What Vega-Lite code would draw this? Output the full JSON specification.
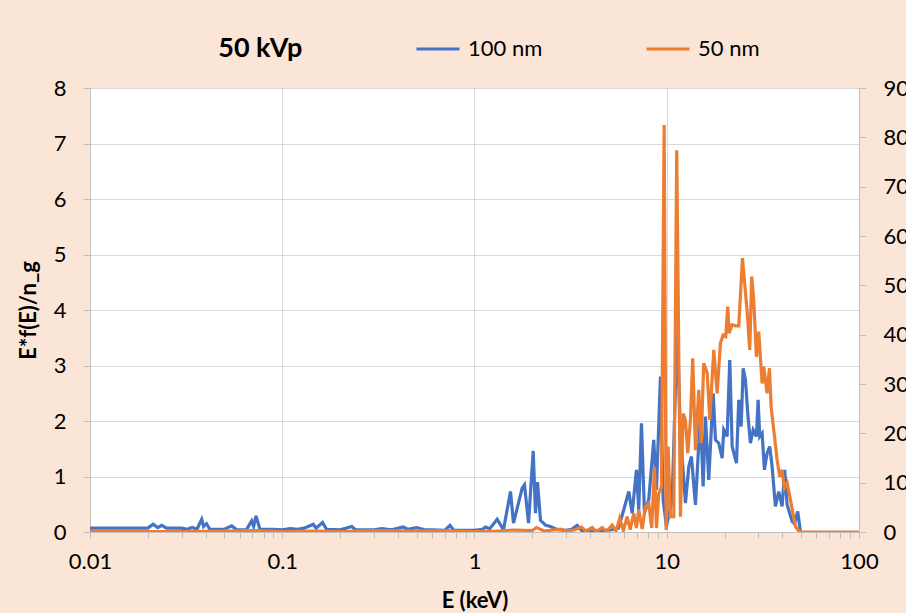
{
  "$schema": "https://vega.github.io/schema/vega-lite/v6.json",
  "width": 769,
  "height": 444,
  "autosize": "none",
  "padding": {"left": 90, "top": 88, "right": 47, "bottom": 81},
  "background": "#FBE5D6",
  "config": {
    "view": {"fill": "white", "stroke": null},
    "font": "Lato",
    "axis": {
      "domainColor": "#BFBFBF",
      "tickColor": "#BFBFBF",
      "gridColor": "#D9D9D9",
      "labelFont": "Lato",
      "labelFontSize": 22,
      "labelColor": "black",
      "titleFont": "Lato",
      "titleFontSize": 22,
      "titleFontWeight": "bold",
      "titleColor": "black"
    }
  },
  "title": {
    "text": "50 kVp",
    "anchor": "start",
    "dx": 201,
    "offset": -37,
    "fontSize": 27,
    "fontWeight": "bold",
    "font": "Lato",
    "color": "black"
  },
  "datasets": {
    "blue": [
      {"E": 0.01, "v": 0.07}, {"E": 0.015, "v": 0.07}, {"E": 0.02, "v": 0.07}, {"E": 0.0213, "v": 0.14},
      {"E": 0.0225, "v": 0.08}, {"E": 0.0236, "v": 0.12}, {"E": 0.025, "v": 0.07}, {"E": 0.03, "v": 0.07},
      {"E": 0.032, "v": 0.05}, {"E": 0.034, "v": 0.08}, {"E": 0.036, "v": 0.05}, {"E": 0.0381, "v": 0.23},
      {"E": 0.039, "v": 0.1}, {"E": 0.0404, "v": 0.15}, {"E": 0.042, "v": 0.05}, {"E": 0.05, "v": 0.05},
      {"E": 0.0546, "v": 0.11}, {"E": 0.058, "v": 0.04}, {"E": 0.065, "v": 0.04}, {"E": 0.0693, "v": 0.2},
      {"E": 0.071, "v": 0.1}, {"E": 0.073, "v": 0.29}, {"E": 0.0765, "v": 0.05}, {"E": 0.09, "v": 0.05},
      {"E": 0.1, "v": 0.04}, {"E": 0.11, "v": 0.06}, {"E": 0.12, "v": 0.05}, {"E": 0.13, "v": 0.07},
      {"E": 0.145, "v": 0.14}, {"E": 0.15, "v": 0.07}, {"E": 0.162, "v": 0.17}, {"E": 0.17, "v": 0.05},
      {"E": 0.2, "v": 0.04}, {"E": 0.23, "v": 0.1}, {"E": 0.24, "v": 0.04}, {"E": 0.3, "v": 0.04},
      {"E": 0.33, "v": 0.06}, {"E": 0.37, "v": 0.04}, {"E": 0.425, "v": 0.09}, {"E": 0.45, "v": 0.05},
      {"E": 0.5, "v": 0.08}, {"E": 0.55, "v": 0.04}, {"E": 0.6, "v": 0.04}, {"E": 0.7, "v": 0.03},
      {"E": 0.745, "v": 0.12}, {"E": 0.78, "v": 0.03}, {"E": 1.0, "v": 0.03}, {"E": 1.1, "v": 0.05},
      {"E": 1.141, "v": 0.09}, {"E": 1.2, "v": 0.06}, {"E": 1.312, "v": 0.23}, {"E": 1.415, "v": 0.04},
      {"E": 1.539, "v": 0.73}, {"E": 1.595, "v": 0.16}, {"E": 1.77, "v": 0.79}, {"E": 1.82, "v": 0.85},
      {"E": 1.91, "v": 0.16}, {"E": 2.02, "v": 1.46}, {"E": 2.076, "v": 0.34}, {"E": 2.127, "v": 0.9},
      {"E": 2.204, "v": 0.21}, {"E": 2.35, "v": 0.12}, {"E": 2.484, "v": 0.1}, {"E": 2.7, "v": 0.04},
      {"E": 3.0, "v": 0.03}, {"E": 3.2, "v": 0.05}, {"E": 3.42, "v": 0.12}, {"E": 3.6, "v": 0.03},
      {"E": 4.5, "v": 0.02}, {"E": 5.2, "v": 0.04}, {"E": 5.61, "v": 0.07}, {"E": 5.976, "v": 0.4},
      {"E": 6.345, "v": 0.73}, {"E": 6.607, "v": 0.34}, {"E": 6.957, "v": 1.12}, {"E": 7.151, "v": 0.4},
      {"E": 7.386, "v": 1.96}, {"E": 7.656, "v": 0.34}, {"E": 8.06, "v": 0.58}, {"E": 8.558, "v": 1.66},
      {"E": 8.84, "v": 0.76}, {"E": 9.273, "v": 2.8}, {"E": 9.579, "v": 0.58}, {"E": 9.963, "v": 0.1},
      {"E": 10.67, "v": 0.58}, {"E": 11.33, "v": 3.64}, {"E": 11.78, "v": 1.78}, {"E": 12.51, "v": 0.52},
      {"E": 13.02, "v": 1.18}, {"E": 13.44, "v": 1.36}, {"E": 14.1, "v": 0.49}, {"E": 14.97, "v": 2.14},
      {"E": 15.46, "v": 0.82}, {"E": 15.89, "v": 2.08}, {"E": 16.54, "v": 0.94}, {"E": 17.43, "v": 2.5},
      {"E": 17.92, "v": 1.66}, {"E": 18.64, "v": 1.6}, {"E": 19.42, "v": 1.33}, {"E": 19.79, "v": 1.84},
      {"E": 20.61, "v": 1.72}, {"E": 21.27, "v": 3.1}, {"E": 21.89, "v": 1.54}, {"E": 23.05, "v": 1.24},
      {"E": 23.69, "v": 2.38}, {"E": 24.38, "v": 1.9}, {"E": 24.97, "v": 2.95}, {"E": 25.67, "v": 2.74},
      {"E": 26.38, "v": 2.14}, {"E": 27.24, "v": 1.6}, {"E": 28.14, "v": 1.84}, {"E": 29.27, "v": 1.72},
      {"E": 29.87, "v": 2.38}, {"E": 30.45, "v": 1.72}, {"E": 31.34, "v": 1.78}, {"E": 32.21, "v": 1.12},
      {"E": 33.27, "v": 1.42}, {"E": 34.32, "v": 1.54}, {"E": 35.32, "v": 1.18}, {"E": 36.75, "v": 0.46},
      {"E": 38.23, "v": 0.73}, {"E": 39.82, "v": 0.46}, {"E": 41.08, "v": 1.12}, {"E": 42.28, "v": 0.49},
      {"E": 44.9, "v": 0.19}, {"E": 46.2, "v": 0.15}, {"E": 48.0, "v": 0.37}, {"E": 49.6, "v": 0.0}
    ],
    "orange": [
      {"E": 0.01, "r": 0.1}, {"E": 0.03, "r": 0.1}, {"E": 0.05, "r": 0.2}, {"E": 0.07, "r": 0.3},
      {"E": 0.1, "r": 0.1}, {"E": 0.15, "r": 0.2}, {"E": 0.2, "r": 0.1}, {"E": 0.3, "r": 0.3},
      {"E": 0.5, "r": 0.2}, {"E": 0.7, "r": 0.3}, {"E": 1.0, "r": 0.1}, {"E": 1.3, "r": 0.2},
      {"E": 1.6, "r": 0.4}, {"E": 2.0, "r": 0.3}, {"E": 2.1, "r": 0.9}, {"E": 2.3, "r": 0.2},
      {"E": 2.8, "r": 0.6}, {"E": 3.0, "r": 0.2}, {"E": 3.3, "r": 0.4}, {"E": 3.6, "r": 1.0},
      {"E": 3.8, "r": 0.2}, {"E": 4.093, "r": 0.9}, {"E": 4.3, "r": 0.1}, {"E": 4.613, "r": 0.9},
      {"E": 4.85, "r": 0.1}, {"E": 5.2, "r": 1.4}, {"E": 5.45, "r": 0.2}, {"E": 5.695, "r": 2.8},
      {"E": 5.95, "r": 0.3}, {"E": 6.223, "r": 3.1}, {"E": 6.45, "r": 0.5}, {"E": 6.736, "r": 3.8},
      {"E": 6.95, "r": 0.8}, {"E": 7.151, "r": 4.5}, {"E": 7.45, "r": 0.6}, {"E": 7.748, "r": 5.1},
      {"E": 8.06, "r": 5.8}, {"E": 8.35, "r": 0.8}, {"E": 8.63, "r": 13.2}, {"E": 8.84, "r": 0.8},
      {"E": 9.087, "r": 7.8}, {"E": 9.385, "r": 9.2}, {"E": 9.694, "r": 82.5}, {"E": 9.929, "r": 0.4},
      {"E": 10.17, "r": 17.3}, {"E": 10.45, "r": 3.1}, {"E": 10.88, "r": 3.1}, {"E": 11.27, "r": 77.4},
      {"E": 11.78, "r": 3.1}, {"E": 12.17, "r": 24}, {"E": 12.51, "r": 22.7}, {"E": 12.86, "r": 16},
      {"E": 13.28, "r": 22.7}, {"E": 13.65, "r": 35.2}, {"E": 14.1, "r": 16.6}, {"E": 14.67, "r": 28.8},
      {"E": 15.1, "r": 18}, {"E": 15.57, "r": 34.2}, {"E": 16.23, "r": 32.2}, {"E": 16.74, "r": 22.7},
      {"E": 17.56, "r": 36.9}, {"E": 18.29, "r": 28.1}, {"E": 19.02, "r": 38.3}, {"E": 19.65, "r": 39.9},
      {"E": 20.27, "r": 39.6}, {"E": 20.76, "r": 45.7}, {"E": 21.11, "r": 40.3}, {"E": 21.89, "r": 42},
      {"E": 22.77, "r": 41.8}, {"E": 23.69, "r": 41.8}, {"E": 24.76, "r": 55.5}, {"E": 26.19, "r": 44.7},
      {"E": 27.02, "r": 36.9}, {"E": 27.67, "r": 51.8}, {"E": 28.34, "r": 47}, {"E": 29.27, "r": 35.5},
      {"E": 30.09, "r": 40.6}, {"E": 31.34, "r": 30.1}, {"E": 31.95, "r": 33.5}, {"E": 33.27, "r": 28.1},
      {"E": 34.2, "r": 33.2}, {"E": 34.9, "r": 25.4}, {"E": 37.51, "r": 14.6}, {"E": 38.69, "r": 11.2},
      {"E": 39.82, "r": 12.6}, {"E": 40.93, "r": 8.9}, {"E": 42.28, "r": 9.9}, {"E": 44.0, "r": 6.5},
      {"E": 46.7, "r": 1.1}, {"E": 48.6, "r": 0.2}, {"E": 50, "r": 0}, {"E": 100, "r": 0}
    ]
  },
  "layer": [
    {
      "data": {"name": "blue"},
      "mark": {"type": "line", "strokeWidth": 3.2, "clip": true},
      "encoding": {
        "x": {
          "field": "E",
          "type": "quantitative",
          "scale": {"type": "log", "domain": [0.01, 100]},
          "axis": {
            "values": [0.01,0.02,0.03,0.04,0.05,0.06,0.07,0.08,0.09,0.1,0.2,0.3,0.4,0.5,0.6,0.7,0.8,0.9,1,2,3,4,5,6,7,8,9,10,20,30,40,50,60,70,80,90,100],
            "labelExpr": "indexof([0.01,0.1,1,10,100], datum.value) >= 0 ? toString(datum.value) : ''",
            "gridOpacity": {"condition": {"test": "indexof([0.01,0.1,1,10,100], datum.value) >= 0", "value": 1}, "value": 0},
            "tickSize": 6,
            "labelPadding": 13,
            "labelFlush": false,
            "labelOverlap": false,
            "title": "E (keV)",
            "titlePadding": 18
          }
        },
        "y": {
          "field": "v",
          "type": "quantitative",
          "scale": {"domain": [0, 8], "nice": false},
          "axis": {
            "values": [0,1,2,3,4,5,6,7,8],
            "tickSize": 7,
            "labelPadding": 17,
            "title": "E*f(E)/n_g",
            "titlePadding": 13
          }
        },
        "color": {
          "datum": "100 nm",
          "scale": {"domain": ["100 nm", "50 nm"], "range": ["#4472C4", "#ED7D31"]},
          "legend": {
            "orient": "none",
            "legendX": 325,
            "legendY": -62,
            "direction": "horizontal",
            "title": null,
            "symbolType": "stroke",
            "symbolSize": 1849,
            "symbolStrokeWidth": 3,
            "labelFontSize": 22,
            "labelFont": "Lato",
            "labelColor": "black",
            "labelOffset": 7,
            "columnPadding": 97
          }
        }
      }
    },
    {
      "data": {"name": "orange"},
      "mark": {"type": "line", "strokeWidth": 3.2, "clip": true},
      "encoding": {
        "x": {"field": "E", "type": "quantitative", "scale": {"type": "log", "domain": [0.01, 100]}},
        "y": {
          "field": "r",
          "type": "quantitative",
          "scale": {"domain": [0, 90], "nice": false},
          "axis": {
            "orient": "right",
            "values": [0,10,20,30,40,50,60,70,80,90],
            "grid": false,
            "tickSize": 7,
            "labelPadding": 17,
            "title": null
          }
        },
        "color": {"datum": "50 nm"}
      }
    }
  ],
  "resolve": {"scale": {"y": "independent"}}
}
